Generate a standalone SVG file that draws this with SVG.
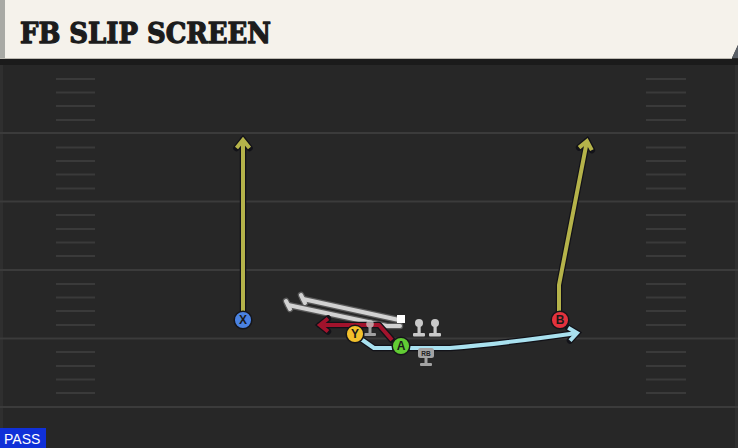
<svg xmlns="http://www.w3.org/2000/svg" width="738" height="448" viewBox="0 0 738 448">
<defs>
<style>
.field{fill:#272727}
.yl{stroke:#3b3b3b;stroke-width:2}
.hm{stroke:#3a3a3a;stroke-width:2}
.out{fill:none;stroke:#121218;stroke-width:6.5;stroke-linejoin:round;stroke-linecap:round}
.ry{fill:none;stroke:#b5b34a;stroke-width:4;stroke-linejoin:round}
.rc{fill:none;stroke:#a9e1ef;stroke-width:4;stroke-linejoin:round}
.rr{fill:none;stroke:#a2132c;stroke-width:4;stroke-linejoin:round}
.gout{fill:none;stroke:#5a5a5a;stroke-width:6.5;stroke-linecap:round}
.gl{fill:none;stroke:#d2d2d2;stroke-width:4;stroke-linecap:round}
.pc{stroke:#15151a;stroke-width:1.5}
.pl{font-family:"Liberation Sans",Arial,sans-serif;font-weight:bold;font-size:12px;fill:#1a1a1a;text-anchor:middle}
.ol{fill:#c9c9c9}
</style>
<marker id="mo" markerUnits="userSpaceOnUse" markerWidth="20" markerHeight="20" refX="0" refY="0" orient="auto" overflow="visible"><path d="M-8,-6.5 L0,0 L-8,6.5" fill="none" stroke="#121218" stroke-width="6.5" stroke-linejoin="miter" stroke-linecap="round"/></marker>
<marker id="my" markerUnits="userSpaceOnUse" markerWidth="20" markerHeight="20" refX="0" refY="0" orient="auto" overflow="visible"><path d="M-8,-6.5 L0,0 L-8,6.5" fill="none" stroke="#b5b34a" stroke-width="4" stroke-linejoin="miter"/></marker>
<marker id="mc" markerUnits="userSpaceOnUse" markerWidth="20" markerHeight="20" refX="0" refY="0" orient="auto" overflow="visible"><path d="M-8,-6.5 L0,0 L-8,6.5" fill="none" stroke="#a9e1ef" stroke-width="4" stroke-linejoin="miter"/></marker>
<marker id="mr" markerUnits="userSpaceOnUse" markerWidth="20" markerHeight="20" refX="0" refY="0" orient="auto" overflow="visible"><path d="M-8,-6.5 L0,0 L-8,6.5" fill="none" stroke="#a2132c" stroke-width="4" stroke-linejoin="miter"/></marker>
</defs>

<rect class="field" x="0" y="0" width="738" height="448"/>
<rect x="0" y="59" width="738" height="6" fill="#1b1b1b"/>
<rect x="0" y="65" width="3" height="383" fill="#2f2f2f"/>
<rect x="735" y="65" width="3" height="383" fill="#2f2f2f"/>

<g id="field-lines">
<line class="yl" x1="0" y1="133" x2="738" y2="133"/>
<line class="yl" x1="0" y1="201.5" x2="738" y2="201.5"/>
<line class="yl" x1="0" y1="270" x2="738" y2="270"/>
<line class="yl" x1="0" y1="338.5" x2="738" y2="338.5"/>
<line class="yl" x1="0" y1="407" x2="738" y2="407"/>
<g id="hash-left">
<line class="hm" x1="56" y1="79" x2="95" y2="79"/><line class="hm" x1="56" y1="92.5" x2="95" y2="92.5"/><line class="hm" x1="56" y1="106" x2="95" y2="106"/><line class="hm" x1="56" y1="120" x2="95" y2="120"/>
<line class="hm" x1="56" y1="147.5" x2="95" y2="147.5"/><line class="hm" x1="56" y1="161" x2="95" y2="161"/><line class="hm" x1="56" y1="174.5" x2="95" y2="174.5"/><line class="hm" x1="56" y1="188.5" x2="95" y2="188.5"/>
<line class="hm" x1="56" y1="215" x2="95" y2="215"/><line class="hm" x1="56" y1="229" x2="95" y2="229"/><line class="hm" x1="56" y1="242.5" x2="95" y2="242.5"/><line class="hm" x1="56" y1="256" x2="95" y2="256"/>
<line class="hm" x1="56" y1="284" x2="95" y2="284"/><line class="hm" x1="56" y1="297.5" x2="95" y2="297.5"/><line class="hm" x1="56" y1="311" x2="95" y2="311"/><line class="hm" x1="56" y1="325" x2="95" y2="325"/>
<line class="hm" x1="56" y1="352" x2="95" y2="352"/><line class="hm" x1="56" y1="366" x2="95" y2="366"/><line class="hm" x1="56" y1="379.5" x2="95" y2="379.5"/><line class="hm" x1="56" y1="393" x2="95" y2="393"/>
</g>
<g id="hash-right">
<line class="hm" x1="646" y1="79" x2="686" y2="79"/><line class="hm" x1="646" y1="92.5" x2="686" y2="92.5"/><line class="hm" x1="646" y1="106" x2="686" y2="106"/><line class="hm" x1="646" y1="120" x2="686" y2="120"/>
<line class="hm" x1="646" y1="147.5" x2="686" y2="147.5"/><line class="hm" x1="646" y1="161" x2="686" y2="161"/><line class="hm" x1="646" y1="174.5" x2="686" y2="174.5"/><line class="hm" x1="646" y1="188.5" x2="686" y2="188.5"/>
<line class="hm" x1="646" y1="215" x2="686" y2="215"/><line class="hm" x1="646" y1="229" x2="686" y2="229"/><line class="hm" x1="646" y1="242.5" x2="686" y2="242.5"/><line class="hm" x1="646" y1="256" x2="686" y2="256"/>
<line class="hm" x1="646" y1="284" x2="686" y2="284"/><line class="hm" x1="646" y1="297.5" x2="686" y2="297.5"/><line class="hm" x1="646" y1="311" x2="686" y2="311"/><line class="hm" x1="646" y1="325" x2="686" y2="325"/>
<line class="hm" x1="646" y1="352" x2="686" y2="352"/><line class="hm" x1="646" y1="366" x2="686" y2="366"/><line class="hm" x1="646" y1="379.5" x2="686" y2="379.5"/><line class="hm" x1="646" y1="393" x2="686" y2="393"/>
</g>
</g>

<g id="header">
<path d="M0,0 H738 V45 L732,58 H0 Z" fill="#f5f2eb"/>
<path d="M738,45 L732,58 H738 Z" fill="#5a5f66"/>
<rect x="0" y="0" width="5" height="58" fill="#a9aaa5"/>
<line x1="0" y1="58.5" x2="732" y2="58.5" stroke="#bdbab2" stroke-width="1"/>
<text x="20" y="43" font-family="'DejaVu Serif','Liberation Serif',serif" font-weight="bold" font-size="28" fill="#1c1c1c" textLength="251" lengthAdjust="spacingAndGlyphs" stroke="#1c1c1c" stroke-width="1.3" stroke-linejoin="round">FB SLIP SCREEN</text>
</g>

<g id="connectors">
<path class="gout" d="M303,299 L399,320"/>
<path class="gout" d="M301,295 L305,303"/>
<path class="gout" d="M288,305 L387,326 L400,326"/>
<path class="gout" d="M286,301 L290,309"/>
<path class="gl" d="M303,299 L399,320"/>
<path class="gl" d="M301,295 L305,303"/>
<path class="gl" d="M288,305 L387,326 L400,326"/>
<path class="gl" d="M286,301 L290,309"/>
<path class="out" d="M243,312 V140" marker-end="url(#mo)"/>
<path class="ry" d="M243,312 V140" marker-end="url(#my)"/>
<path class="out" d="M559,312 V285 L587,141" marker-end="url(#mo)"/>
<path class="ry" d="M559,312 V285 L587,141" marker-end="url(#my)"/>
<path class="out" d="M392,340 L379,325 L320,325" marker-end="url(#mo)"/>
<path class="rr" d="M392,340 L379,325 L320,325" marker-end="url(#mr)"/>
<path class="out" d="M361,339 L374,348 L450,348 Q500,344 577,333" marker-end="url(#mo)"/>
<path class="rc" d="M361,339 L374,348 L450,348 Q500,344 577,333" marker-end="url(#mc)"/>
</g>

<g id="OL1" opacity="0.75">
<circle class="ol" cx="370" cy="324" r="3.8"/>
<rect class="ol" x="368.5" y="326" width="3" height="8"/>
<rect class="ol" x="364" y="333" width="12" height="3" rx="1"/>
</g>
<g id="C">
<rect x="397" y="315" width="8" height="8" fill="#ffffff"/>
</g>
<g id="OL2">
<circle class="ol" cx="419" cy="323" r="4"/>
<rect class="ol" x="417.5" y="325" width="3.2" height="9"/>
<rect class="ol" x="413" y="333" width="12" height="3.5" rx="1"/>
</g>
<g id="OL3">
<circle class="ol" cx="435" cy="323" r="4"/>
<rect class="ol" x="433.5" y="325" width="3.2" height="9"/>
<rect class="ol" x="429" y="333" width="12" height="3.5" rx="1"/>
</g>
<g id="RB">
<rect x="418" y="348" width="16" height="10" rx="2.5" fill="#a3a3a3"/>
<text x="426" y="355.5" font-family="'Liberation Sans',Arial,sans-serif" font-weight="bold" font-size="6.5" fill="#222" text-anchor="middle">RB</text>
<rect x="424.5" y="358" width="3" height="6" fill="#a3a3a3"/>
<rect x="420" y="363" width="12" height="3" rx="1" fill="#a3a3a3"/>
</g>

<g id="X">
<circle class="pc" cx="243" cy="320" r="8.8" fill="#4a82e2"/>
<text class="pl" x="243" y="324.3">X</text>
</g>
<g id="B">
<circle class="pc" cx="560" cy="320" r="8.8" fill="#e3323d"/>
<text class="pl" x="560" y="324.3">B</text>
</g>
<g id="Y">
<circle class="pc" cx="355" cy="334" r="8.8" fill="#f3c12c"/>
<text class="pl" x="355" y="338.3">Y</text>
</g>
<g id="A">
<circle class="pc" cx="401" cy="346" r="8.8" fill="#62cc34"/>
<text class="pl" x="401" y="350.3">A</text>
</g>

<g id="pass-tag">
<rect x="0" y="428" width="46" height="20" fill="#1030d8"/>
<text x="4" y="444" font-family="'Liberation Sans',Arial,sans-serif" font-size="14" fill="#ffffff">PASS</text>
</g>
</svg>
